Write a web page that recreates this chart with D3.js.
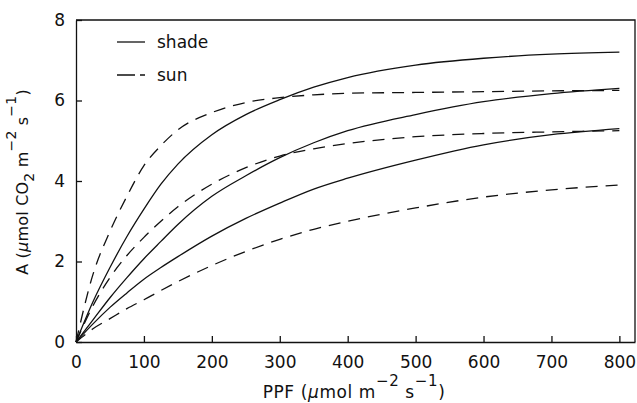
<!DOCTYPE html>
<html lang="en">
<head>
    <meta charset="UTF-8">
    <script src="https://d3js.org/d3.v7.min.js"></script>
    <style>
        body {margin: 0; background-color: #fff}
        svg {display: block; font-family: "DejaVu Sans", sans-serif}
        path.line {fill: none; stroke-width: 1.3px; stroke: #111}
        path.sun {stroke-dasharray: 12, 8}
        text {fill: #111; font-size: 17px}
    </style>
</head>
<body>
<svg class="chart"></svg>
<script type="text/javascript">
    // PPF values (umol m-2 s-1) that each curve is read at
    const ppf = [0, 25, 50, 75, 100, 125, 150, 200, 250, 300, 350, 400, 500, 600, 700, 800];

    // shade-grown leaves (solid)
    const shadeHigh = [0, 1.0, 1.85, 2.62, 3.3, 3.92, 4.42, 5.15, 5.65, 6.02, 6.33, 6.57, 6.88, 7.05, 7.15, 7.2];
    const shadeMid  = [0, 0.55, 1.1, 1.6, 2.07, 2.5, 2.92, 3.62, 4.13, 4.58, 4.95, 5.25, 5.65, 5.97, 6.17, 6.3];
    const shadeLow  = [0, 0.45, 0.86, 1.22, 1.56, 1.85, 2.12, 2.63, 3.07, 3.45, 3.8, 4.07, 4.52, 4.9, 5.15, 5.3];

    // sun-grown leaves (dashed)
    const sunHigh = [0, 1.68, 2.75, 3.62, 4.38, 4.88, 5.27, 5.7, 5.95, 6.07, 6.14, 6.18, 6.2, 6.22, 6.24, 6.25];
    const sunMid  = [0, 0.9, 1.6, 2.15, 2.6, 3.0, 3.36, 3.92, 4.33, 4.62, 4.8, 4.93, 5.1, 5.18, 5.22, 5.25];
    const sunLow  = [0, 0.33, 0.58, 0.83, 1.05, 1.28, 1.5, 1.9, 2.25, 2.55, 2.8, 3.0, 3.33, 3.6, 3.78, 3.9];

    const xTicks = [0, 100, 200, 300, 400, 500, 600, 700, 800];
    const yTicks = [0, 2, 4, 6, 8];

    let chart_w = 637, chart_h = 403;
    let pLeft = 76, pRight = 635, pTop = 20, pBottom = 342;

    var svg = d3.select('.chart').attr('width', chart_w).attr('height', chart_h);

    var x = d3.scaleLinear().domain([0, 823]).range([pLeft, pRight]);
    var y = d3.scaleLinear().domain([0, 8]).range([pBottom, pTop]);

    // frame (top + right), axes supply bottom + left
    svg.append('path')
        .attr('d', `M${pLeft},${pTop}H${pRight}V${pBottom}`)
        .attr('fill', 'none').attr('stroke', '#111').attr('stroke-width', 1.3);

    var xAxis = svg.append('g').attr('transform', `translate(0,${pBottom})`)
        .call(d3.axisBottom(x).tickValues(xTicks).tickSize(-6).tickPadding(14).tickSizeOuter(0));
    var yAxis = svg.append('g').attr('transform', `translate(${pLeft},0)`)
        .call(d3.axisLeft(y).tickValues(yTicks).tickSize(-6).tickPadding(11).tickSizeOuter(0));

    [xAxis, yAxis].forEach(a => {
        a.select('.domain').attr('stroke', '#111').attr('stroke-width', 1.3);
        a.selectAll('.tick line').attr('stroke', '#111').attr('stroke-width', 1.3);
        a.selectAll('.tick text').attr('fill', '#111').style('font-size', '17px')
            .style('font-family', '"DejaVu Sans", sans-serif');
    });

    var line = d3.line()
        .x((d, i) => x(ppf[i]))
        .y(d => y(d))
        .curve(d3.curveMonotoneX);

    [shadeHigh, shadeMid, shadeLow].forEach(s => {
        svg.append('path').attr('class', 'line shade').attr('d', line(s));
    });
    [sunHigh, sunMid, sunLow].forEach(s => {
        svg.append('path').attr('class', 'line sun').attr('d', line(s));
    });

    // legend
    var legend = [['shade', null, 42], ['sun', '18,5,6', 75]];
    legend.forEach(d => {
        svg.append('line')
            .attr('x1', 117).attr('x2', 145).attr('y1', d[2]).attr('y2', d[2])
            .attr('stroke', '#111').attr('stroke-width', 1.3)
            .attr('stroke-dasharray', d[1]);
        svg.append('text')
            .attr('x', 157).attr('y', d[2] + 6).text(d[0]);
    });

    // axis titles
    function sup(t, s, sz) {
        t.append('tspan').attr('dy', -12).style('font-size', sz).text(s);
    }
    var xt = svg.append('text')
        .attr('x', 354).attr('y', 398)
        .attr('text-anchor', 'middle')
        .style('letter-spacing', '0.6px');
    xt.append('tspan').text('PPF (');
    xt.append('tspan').style('font-style', 'italic').text('\u03bc');
    xt.append('tspan').text('mol m');
    sup(xt, '\u22122', '15px');
    xt.append('tspan').attr('dy', 12).text(' s');
    sup(xt, '\u22121', '15px');
    xt.append('tspan').attr('dy', 12).text(')');

    var yt = svg.append('text')
        .attr('transform', 'translate(28,182) rotate(-90)')
        .attr('text-anchor', 'middle')
        .style('font-size', '16px')
        .style('letter-spacing', '0.2px');
    yt.append('tspan').text('A (');
    yt.append('tspan').style('font-style', 'italic').text('\u03bc');
    yt.append('tspan').text('mol CO');
    yt.append('tspan').attr('dy', 6).style('font-size', '14px').text('2');
    yt.append('tspan').attr('dy', -6).text(' m');
    sup(yt, '\u22122', '14px');
    yt.append('tspan').attr('dy', 12).text(' s');
    sup(yt, '\u22121', '14px');
    yt.append('tspan').attr('dy', 12).text(')');
</script>
</body>
</html>
